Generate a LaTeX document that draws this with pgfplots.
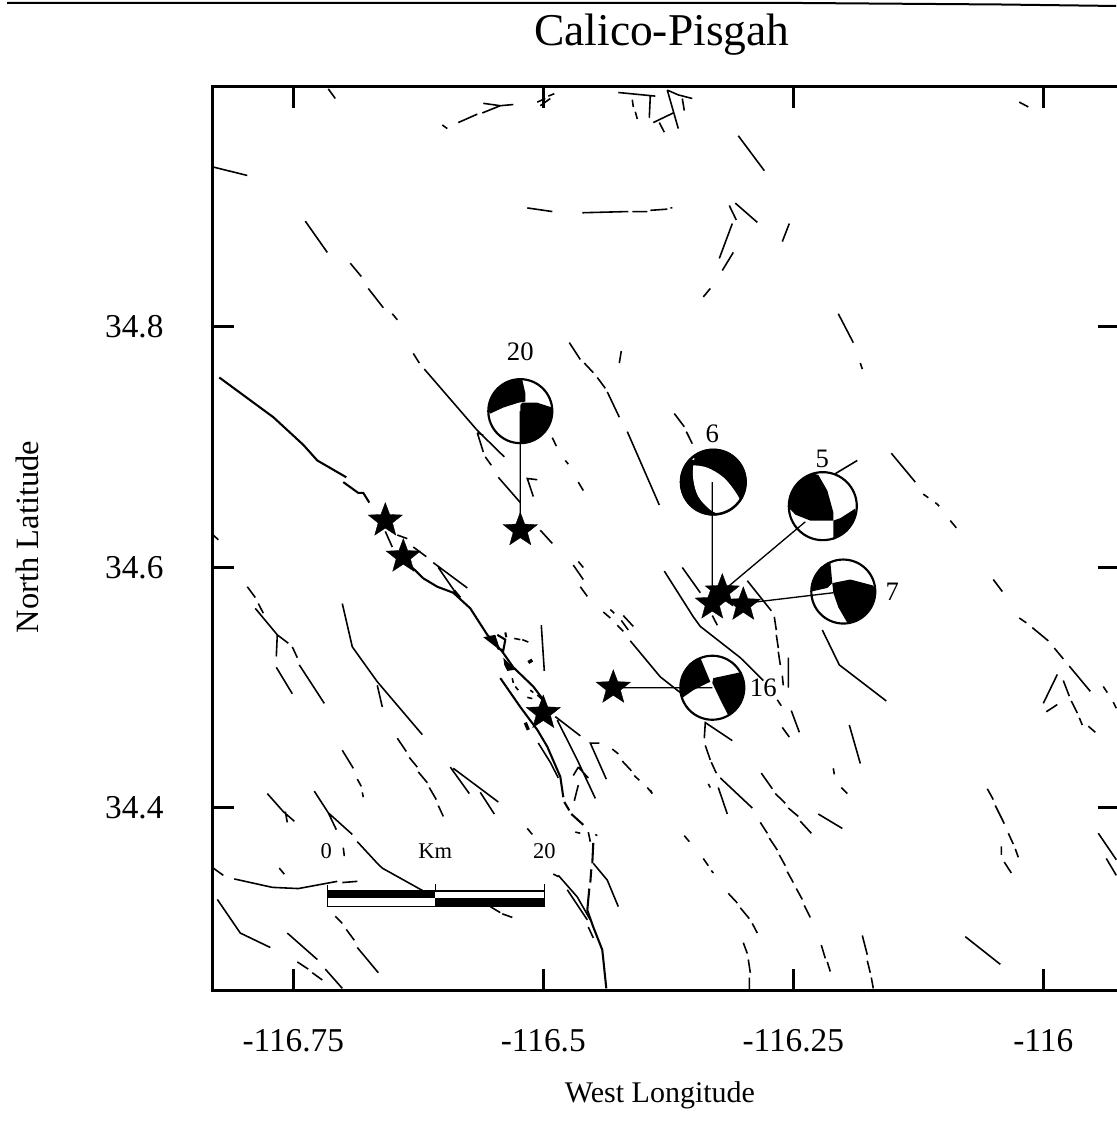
\documentclass[border=0pt]{standalone}
\usepackage{fontspec}
\setmainfont{Liberation Serif}
\usepackage{pgfplots}
\pgfplotsset{compat=1.18}
\pgfdeclareplotmark{fstar}{%
  \pgfpathmoveto{\pgfqpoint{0pt}{\pgfplotmarksize}}%
  \pgfpathlineto{\pgfqpoint{0.247\pgfplotmarksize}{0.34\pgfplotmarksize}}%
  \pgfpathlineto{\pgfqpoint{0.951\pgfplotmarksize}{0.309\pgfplotmarksize}}%
  \pgfpathlineto{\pgfqpoint{0.40\pgfplotmarksize}{-0.13\pgfplotmarksize}}%
  \pgfpathlineto{\pgfqpoint{0.588\pgfplotmarksize}{-0.809\pgfplotmarksize}}%
  \pgfpathlineto{\pgfqpoint{0pt}{-0.42\pgfplotmarksize}}%
  \pgfpathlineto{\pgfqpoint{-0.588\pgfplotmarksize}{-0.809\pgfplotmarksize}}%
  \pgfpathlineto{\pgfqpoint{-0.40\pgfplotmarksize}{-0.13\pgfplotmarksize}}%
  \pgfpathlineto{\pgfqpoint{-0.951\pgfplotmarksize}{0.309\pgfplotmarksize}}%
  \pgfpathlineto{\pgfqpoint{-0.247\pgfplotmarksize}{0.34\pgfplotmarksize}}%
  \pgfpathclose\pgfusepathqfillstroke}
\begin{document}
\begin{tikzpicture}[x=0.6pt,y=0.6pt]
\path[use as bounding box] (0,0) rectangle (1116,1140);
\draw[line width=1.2pt,black] (7,1137) -- (800,1137) -- (1000,1135.5) -- (1116,1134);
\begin{axis}[
  at={(127.62pt,89.82pt)}, anchor=south west,
  scale only axis, width=544.38pt, height=542.28pt,
  xmin=-116.8306, xmax=-115.9233, ymin=34.2484, ymax=35.0,
  unbounded coords=jump,
  clip marker paths=true,
  axis line style={line width=1.9pt,black},
  tick align=inside, major tick length=13pt,
  tick style={line width=1.8pt,black},
  xtick={-116.75,-116.5,-116.25,-116},
  xticklabels={-116.75,-116.5,-116.25,-116},
  ytick={34.4,34.6,34.8},
  yticklabels={34.4,34.6,34.8},
  tick label style={font=\fontsize{20}{22}\selectfont},
  xticklabel style={yshift=-20pt},
  yticklabel style={xshift=-26pt},
  title={\fontsize{27.3}{30}\selectfont Calico-Pisgah},
  title style={at={(axis description cs:0.495,1.0459)},anchor=center},
  xlabel={\fontsize{18}{21}\selectfont West Longitude},
  xlabel style={at={(axis description cs:0.493,-0.116)},anchor=center},
  ylabel={\fontsize{19.5}{22}\selectfont North Latitude},
  ylabel style={at={(axis description cs:-0.2047,0.5016)},anchor=center},
]
% faults, thin
\addplot[black,line width=0.95pt] coordinates {
(-116.715,34.998) (-116.708,34.990) (nan,nan)
(-116.601,34.968) (-116.596,34.965) (nan,nan)
(-116.585,34.970) (-116.566,34.977) (nan,nan)
(-116.560,34.986) (-116.543,34.984) (-116.561,34.978) (nan,nan)
(-116.543,34.984) (-116.530,34.985) (nan,nan)
(-116.506,34.987) (-116.498,34.990) (nan,nan)
(-116.495,34.992) (-116.489,34.994) (nan,nan)
(-116.503,34.984) (-116.493,34.990) (nan,nan)
(-116.425,34.995) (-116.388,34.992) (nan,nan)
(-116.393,34.992) (-116.394,34.974) (nan,nan)
(-116.411,34.989) (-116.410,34.983) (nan,nan)
(-116.408,34.979) (-116.406,34.973) (nan,nan)
(-116.830,34.933) (-116.796,34.926) (nan,nan)
(-116.738,34.888) (-116.716,34.862) (nan,nan)
(-116.693,34.853) (-116.682,34.842) (nan,nan)
(-116.675,34.832) (-116.660,34.816) (nan,nan)
(-116.651,34.811) (-116.646,34.806) (nan,nan)
(-116.630,34.778) (-116.624,34.770) (nan,nan)
(-116.619,34.765) (-116.566,34.714) (-116.539,34.692) (nan,nan)
(-116.566,34.712) (-116.560,34.696) (nan,nan)
(-116.558,34.692) (-116.552,34.685) (nan,nan)
(-116.566,34.712) (-116.560,34.710) (nan,nan)
(-116.545,34.675) (-116.523,34.654) (nan,nan)
(-116.506,34.673) (-116.516,34.674) (-116.510,34.659) (nan,nan)
(-116.491,34.708) (-116.487,34.701) (nan,nan)
(-116.478,34.689) (-116.475,34.686) (nan,nan)
(-116.465,34.671) (-116.460,34.664) (nan,nan)
(-116.474,34.787) (-116.463,34.773) (nan,nan)
(-116.459,34.770) (-116.450,34.762) (nan,nan)
(-116.446,34.758) (-116.438,34.749) (nan,nan)
(-116.436,34.746) (-116.424,34.725) (nan,nan)
(-116.416,34.713) (-116.384,34.652) (nan,nan)
(-116.422,34.780) (-116.424,34.770) (nan,nan)
(-116.516,34.899) (-116.491,34.896) (nan,nan)
(-116.461,34.895) (-116.415,34.896) (nan,nan)
(-116.411,34.896) (-116.396,34.896) (nan,nan)
(-116.393,34.897) (-116.376,34.898) (nan,nan)
(-116.373,34.899) (-116.371,34.899) (nan,nan)
(-116.376,34.997) (-116.365,34.965) (nan,nan)
(-116.376,34.997) (-116.365,34.993) (-116.351,34.990) (nan,nan)
(-116.361,34.990) (-116.359,34.980) (nan,nan)
(-116.390,34.970) (-116.370,34.978) (nan,nan)
(-116.384,34.970) (-116.379,34.962) (nan,nan)
(-116.305,34.959) (-116.279,34.930) (nan,nan)
(-116.308,34.903) (-116.286,34.887) (nan,nan)
(-116.314,34.901) (-116.307,34.889) (nan,nan)
(-116.311,34.886) (-116.324,34.857) (nan,nan)
(-116.310,34.862) (-116.321,34.847) (nan,nan)
(-116.333,34.832) (-116.340,34.825) (nan,nan)
(-116.254,34.886) (-116.261,34.871) (nan,nan)
(-116.024,34.987) (-116.015,34.983) (nan,nan)
(-116.205,34.811) (-116.190,34.787) (nan,nan)
(-116.183,34.770) (-116.181,34.765) (nan,nan)
(-116.369,34.728) (-116.359,34.717) (nan,nan)
(-116.357,34.713) (-116.351,34.703) (nan,nan)
(-116.208,34.678) (-116.186,34.689) (nan,nan)
(-116.152,34.695) (-116.128,34.671) (nan,nan)
(-116.120,34.661) (-116.115,34.658) (nan,nan)
(-116.108,34.654) (-116.104,34.651) (nan,nan)
(-116.093,34.639) (-116.087,34.633) (nan,nan)
(-116.830,34.627) (-116.825,34.623) (nan,nan)
(-116.796,34.584) (-116.788,34.575) (nan,nan)
(-116.788,34.566) (-116.766,34.544) (-116.755,34.537) (nan,nan)
(-116.785,34.570) (-116.780,34.562) (nan,nan)
(-116.766,34.544) (-116.767,34.526) (nan,nan)
(-116.751,34.534) (-116.746,34.525) (nan,nan)
(-116.744,34.519) (-116.719,34.487) (nan,nan)
(-116.767,34.517) (-116.751,34.495) (nan,nan)
(-116.701,34.570) (-116.691,34.534) (-116.666,34.505) (-116.621,34.461) (nan,nan)
(-116.666,34.502) (-116.661,34.484) (nan,nan)
(-116.646,34.458) (-116.637,34.447) (nan,nan)
(-116.634,34.442) (-116.626,34.434) (nan,nan)
(-116.625,34.430) (-116.616,34.421) (nan,nan)
(-116.614,34.417) (-116.607,34.407) (nan,nan)
(-116.605,34.402) (-116.600,34.393) (nan,nan)
(-116.701,34.448) (-116.690,34.433) (nan,nan)
(-116.686,34.424) (-116.682,34.418) (nan,nan)
(-116.681,34.413) (-116.680,34.409) (nan,nan)
(-116.593,34.434) (-116.574,34.412) (nan,nan)
(-116.590,34.433) (-116.545,34.405) (nan,nan)
(-116.563,34.413) (-116.549,34.395) (nan,nan)
(-116.776,34.412) (-116.760,34.397) (-116.749,34.389) (nan,nan)
(-116.758,34.397) (-116.756,34.388) (nan,nan)
(-116.729,34.414) (-116.715,34.396) (-116.691,34.378) (nan,nan)
(-116.715,34.396) (-116.707,34.382) (nan,nan)
(-116.686,34.372) (-116.666,34.354) (-116.661,34.350) (-116.620,34.331) (nan,nan)
(-116.700,34.367) (-116.699,34.360) (nan,nan)
(-116.516,34.383) (-116.511,34.378) (nan,nan)
(-116.830,34.350) (-116.820,34.344) (nan,nan)
(-116.764,34.350) (-116.759,34.345) (nan,nan)
(-116.809,34.341) (-116.771,34.334) (-116.745,34.333) (-116.706,34.339) (nan,nan)
(-116.701,34.338) (-116.686,34.339) (nan,nan)
(-116.826,34.324) (-116.803,34.296) (-116.773,34.284) (nan,nan)
(-116.756,34.296) (-116.726,34.274) (nan,nan)
(-116.708,34.310) (-116.701,34.304) (nan,nan)
(-116.697,34.299) (-116.689,34.290) (nan,nan)
(-116.686,34.284) (-116.665,34.263) (nan,nan)
(-116.746,34.272) (-116.735,34.266) (nan,nan)
(-116.731,34.263) (-116.721,34.257) (nan,nan)
(-116.718,34.266) (-116.701,34.250) (nan,nan)
(-116.553,34.318) (-116.543,34.313) (nan,nan)
(-116.541,34.312) (-116.531,34.309) (nan,nan)
(-116.468,34.380) (-116.463,34.379) (nan,nan)
(-116.455,34.380) (-116.453,34.372) (nan,nan)
(-116.448,34.378) (-116.446,34.377) (nan,nan)
(-116.488,34.476) (-116.463,34.460) (nan,nan)
(-116.486,34.473) (-116.466,34.440) (-116.448,34.408) (nan,nan)
(-116.465,34.434) (-116.455,34.425) (nan,nan)
(-116.470,34.427) (-116.465,34.434) (nan,nan)
(-116.465,34.419) (-116.469,34.406) (nan,nan)
(-116.444,34.454) (-116.453,34.454) (-116.437,34.424) (nan,nan)
(-116.431,34.449) (-116.425,34.445) (nan,nan)
(-116.421,34.439) (-116.412,34.431) (nan,nan)
(-116.409,34.427) (-116.404,34.423) (nan,nan)
(-116.396,34.417) (-116.391,34.412) (nan,nan)
(-116.610,34.604) (-116.576,34.583) (nan,nan)
(-116.605,34.600) (-116.586,34.577) (nan,nan)
(-116.646,34.627) (-116.636,34.624) (nan,nan)
(-116.630,34.617) (-116.617,34.609) (nan,nan)
(-116.658,34.630) (-116.651,34.617) (nan,nan)
(-116.503,34.631) (-116.491,34.620) (nan,nan)
(-116.502,34.552) (-116.499,34.514) (nan,nan)
(-116.470,34.602) (-116.460,34.590) (nan,nan)
(-116.465,34.605) (-116.460,34.600) (nan,nan)
(-116.463,34.584) (-116.456,34.576) (nan,nan)
(-116.440,34.563) (-116.433,34.558) (nan,nan)
(-116.433,34.565) (-116.429,34.562) (nan,nan)
(-116.426,34.552) (-116.420,34.547) (nan,nan)
(-116.422,34.556) (-116.415,34.548) (nan,nan)
(-116.420,34.560) (-116.410,34.551) (nan,nan)
(-116.413,34.539) (-116.383,34.509) (-116.363,34.496) (nan,nan)
(-116.529,34.541) (-116.523,34.540) (nan,nan)
(-116.521,34.540) (-116.515,34.538) (nan,nan)
(-116.531,34.508) (-116.530,34.504) (nan,nan)
(-116.528,34.501) (-116.525,34.498) (nan,nan)
(-116.516,34.492) (-116.511,34.491) (nan,nan)
(-116.513,34.498) (-116.510,34.496) (nan,nan)
(-116.506,34.494) (-116.501,34.490) (nan,nan)
(-116.505,34.454) (-116.493,34.438) (-116.485,34.425) (nan,nan)
(-116.450,34.354) (-116.436,34.340) (-116.425,34.318) (nan,nan)
(-116.490,34.345) (-116.485,34.343) (nan,nan)
(-116.485,34.344) (-116.466,34.326) (-116.453,34.307) (nan,nan)
(-116.476,34.332) (-116.456,34.307) (nan,nan)
(-116.455,34.301) (-116.450,34.292) (nan,nan)
(-116.379,34.597) (-116.350,34.559) (-116.343,34.551) (-116.303,34.525) (-116.280,34.506) (nan,nan)
(-116.361,34.600) (-116.343,34.579) (nan,nan)
(-116.296,34.589) (-116.272,34.564) (nan,nan)
(-116.331,34.560) (-116.326,34.552) (nan,nan)
(-116.269,34.559) (-116.267,34.548) (nan,nan)
(-116.267,34.544) (-116.265,34.533) (nan,nan)
(-116.265,34.530) (-116.263,34.519) (nan,nan)
(-116.261,34.510) (-116.260,34.502) (nan,nan)
(-116.255,34.525) (-116.255,34.500) (nan,nan)
(-116.266,34.490) (-116.262,34.485) (nan,nan)
(-116.252,34.481) (-116.244,34.463) (nan,nan)
(-116.261,34.467) (-116.254,34.459) (nan,nan)
(-116.221,34.548) (-116.204,34.519) (-116.157,34.489) (nan,nan)
(-116.194,34.469) (-116.183,34.437) (nan,nan)
(-116.210,34.433) (-116.209,34.428) (nan,nan)
(-116.202,34.417) (-116.196,34.412) (nan,nan)
(-116.339,34.458) (-116.338,34.471) (-116.311,34.456) (nan,nan)
(-116.338,34.452) (-116.333,34.440) (nan,nan)
(-116.332,34.438) (-116.327,34.429) (nan,nan)
(-116.335,34.420) (-116.333,34.417) (nan,nan)
(-116.325,34.417) (-116.316,34.395) (nan,nan)
(-116.323,34.425) (-116.291,34.400) (nan,nan)
(-116.282,34.429) (-116.271,34.416) (nan,nan)
(-116.268,34.412) (-116.258,34.404) (nan,nan)
(-116.255,34.400) (-116.245,34.393) (nan,nan)
(-116.243,34.389) (-116.232,34.379) (nan,nan)
(-116.225,34.395) (-116.201,34.383) (nan,nan)
(-116.283,34.388) (-116.276,34.379) (nan,nan)
(-116.274,34.375) (-116.266,34.365) (nan,nan)
(-116.264,34.361) (-116.258,34.352) (nan,nan)
(-116.256,34.347) (-116.250,34.338) (nan,nan)
(-116.247,34.333) (-116.241,34.324) (nan,nan)
(-116.239,34.319) (-116.233,34.309) (nan,nan)
(-116.359,34.377) (-116.354,34.372) (nan,nan)
(-116.340,34.358) (-116.335,34.352) (nan,nan)
(-116.332,34.348) (-116.330,34.346) (nan,nan)
(-116.315,34.329) (-116.306,34.321) (nan,nan)
(-116.303,34.317) (-116.294,34.308) (nan,nan)
(-116.291,34.304) (-116.286,34.296) (nan,nan)
(-116.300,34.288) (-116.296,34.279) (nan,nan)
(-116.295,34.274) (-116.293,34.263) (nan,nan)
(-116.294,34.259) (-116.294,34.249) (nan,nan)
(-116.222,34.286) (-116.218,34.275) (nan,nan)
(-116.216,34.272) (-116.213,34.264) (nan,nan)
(-116.181,34.294) (-116.176,34.278) (nan,nan)
(-116.176,34.273) (-116.173,34.263) (nan,nan)
(-116.172,34.259) (-116.170,34.250) (nan,nan)
(-116.078,34.293) (-116.043,34.270) (nan,nan)
(-116.050,34.590) (-116.041,34.580) (nan,nan)
(-116.024,34.558) (-116.017,34.554) (nan,nan)
(-116.011,34.550) (-115.995,34.539) (nan,nan)
(-115.989,34.533) (-115.980,34.524) (nan,nan)
(-115.974,34.518) (-115.953,34.497) (nan,nan)
(-115.986,34.511) (-116.000,34.487) (nan,nan)
(-115.997,34.480) (-115.986,34.486) (nan,nan)
(-115.980,34.506) (-115.974,34.493) (nan,nan)
(-115.972,34.489) (-115.966,34.479) (nan,nan)
(-115.964,34.475) (-115.961,34.469) (nan,nan)
(-115.955,34.468) (-115.948,34.463) (nan,nan)
(-115.940,34.501) (-115.936,34.496) (nan,nan)
(-115.930,34.488) (-115.927,34.483) (nan,nan)
(-116.056,34.416) (-116.050,34.407) (nan,nan)
(-116.048,34.402) (-116.039,34.387) (nan,nan)
(-116.035,34.379) (-116.030,34.370) (nan,nan)
(-116.028,34.366) (-116.025,34.359) (nan,nan)
(-116.042,34.368) (-116.042,34.361) (nan,nan)
(-116.039,34.355) (-116.032,34.346) (nan,nan)
(-115.945,34.379) (-115.927,34.357) (nan,nan)
(-115.937,34.358) (-115.927,34.344) (nan,nan)
(-116.393,34.415) (-116.391,34.412)
};
% main fault trace, heavier
\addplot[black,line width=1.25pt] coordinates {
(-116.824,34.758) (-116.770,34.725) (-116.740,34.702) (-116.726,34.689) (-116.697,34.675) (nan,nan)
(-116.700,34.671) (-116.685,34.662) (-116.680,34.662) (-116.674,34.654) (nan,nan)
(-116.636,34.604) (-116.620,34.591) (-116.606,34.584) (-116.590,34.579) (-116.573,34.566) (-116.556,34.544) (-116.541,34.530) (-116.530,34.517) (-116.510,34.501) (-116.500,34.490) (nan,nan)
(-116.543,34.508) (-116.523,34.484) (-116.506,34.465) (-116.496,34.451) (-116.483,34.426) (-116.480,34.409) (nan,nan)
(-116.479,34.405) (-116.474,34.398) (nan,nan)
(-116.472,34.395) (-116.460,34.386) (nan,nan)
(-116.450,34.371) (-116.451,34.354) (nan,nan)
(-116.452,34.349) (-116.453,34.338) (nan,nan)
(-116.454,34.333) (-116.456,34.315) (-116.450,34.301) (-116.441,34.282) (-116.437,34.250) (nan,nan)
(-116.546,34.544) (-116.538,34.540) (-116.540,34.531) (-116.546,34.533) (nan,nan)
(-116.538,34.546) (-116.537,34.542) (nan,nan)
(-116.589,34.581) (-116.583,34.575)
};
\addplot[black,line width=2pt] coordinates {
(-116.515,34.521) (-116.511,34.523) (nan,nan)
(-116.518,34.471) (-116.515,34.465)
};
\addplot[fill=black,draw=none] coordinates {(-116.560,34.542) (-116.548,34.544) (-116.543,34.531)} -- cycle;
\addplot[fill=black,draw=none] coordinates {(-116.540,34.525) (-116.528,34.515) (-116.536,34.514) (-116.539,34.519)} -- cycle;
% scale bar
\addplot[fill=white,draw=black,line width=0.8pt] coordinates {(-116.716,34.331) (-116.499,34.331) (-116.499,34.318) (-116.716,34.318)} -- cycle;
\addplot[fill=black,draw=none] coordinates {(-116.716,34.331) (-116.608,34.331) (-116.608,34.325) (-116.716,34.325)} -- cycle;
\addplot[fill=black,draw=none] coordinates {(-116.608,34.325) (-116.499,34.325) (-116.499,34.318) (-116.608,34.318)} -- cycle;
\addplot[black,line width=0.8pt] coordinates {(-116.716,34.331) (-116.716,34.336) (nan,nan) (-116.608,34.331) (-116.608,34.337) (nan,nan) (-116.499,34.331) (-116.499,34.337)};
% focal mechanisms: white disks
\addplot[only marks,mark=*,mark size=19.2pt,mark options={fill=white,draw=none}] coordinates {(-116.523,34.730) (-116.200,34.580) (-116.331,34.500)};
\addplot[only marks,mark=*,mark size=20.4pt,mark options={fill=white,draw=none}] coordinates {(-116.2205,34.651)};
\addplot[only marks,mark=*,mark size=19.8pt,mark options={fill=black,draw=none}] coordinates {(-116.330,34.671)};
% ball 20
\addplot[fill=black,draw=none] coordinates {(-116.521,34.756) (-116.531,34.756) (-116.539,34.753) (-116.546,34.749) (-116.551,34.743) (-116.554,34.737) (-116.555,34.730) (-116.553,34.728) (-116.540,34.733) (-116.525,34.737) (-116.518,34.738) (-116.518,34.745)} -- cycle;
\addplot[fill=black,draw=none] coordinates {(-116.521,34.737) (-116.506,34.737) (-116.491,34.733) (-116.491,34.730) (-116.492,34.723) (-116.495,34.717) (-116.500,34.711) (-116.507,34.707) (-116.515,34.704) (-116.523,34.703) (-116.523,34.735)} -- cycle;
% ball 6
\addplot[fill=white,draw=none,smooth,tension=0.6] coordinates {(-116.350,34.685) (-116.336,34.683) (-116.320,34.675) (-116.308,34.663) (-116.303,34.654) (-116.310,34.649) (-116.323,34.645) (-116.333,34.648) (-116.345,34.659) (-116.350,34.673) (-116.350,34.685)} -- cycle;
\addplot[white,line width=1pt] coordinates {(-116.353,34.691) (-116.349,34.690)};
% ball 5
\addplot[fill=black,draw=none] coordinates {(-116.230,34.678) (-116.238,34.675) (-116.244,34.671) (-116.250,34.665) (-116.253,34.658) (-116.255,34.650) (-116.248,34.644) (-116.233,34.639) (-116.210,34.639) (-116.210,34.646) (-116.216,34.664) (-116.225,34.677)} -- cycle;
\addplot[fill=black,draw=none] coordinates {(-116.210,34.639) (-116.203,34.641) (-116.188,34.649) (-116.188,34.644) (-116.191,34.637) (-116.196,34.630) (-116.204,34.626) (-116.210,34.623)} -- cycle;
% ball 7
\addplot[fill=black,draw=none] coordinates {(-116.213,34.605) (-116.216,34.604) (-116.223,34.600) (-116.228,34.594) (-116.231,34.587) (-116.232,34.580) (-116.216,34.583) (-116.211,34.587)} -- cycle;
\addplot[fill=black,draw=none] coordinates {(-116.211,34.587) (-116.193,34.590) (-116.170,34.585) (-116.168,34.580) (-116.169,34.574) (-116.172,34.567) (-116.177,34.561) (-116.184,34.557) (-116.192,34.555) (-116.196,34.554) (-116.205,34.567) (-116.210,34.579)} -- cycle;
% ball 16
\addplot[fill=black,draw=none] coordinates {(-116.343,34.525) (-116.347,34.524) (-116.354,34.520) (-116.359,34.514) (-116.362,34.507) (-116.363,34.501) (-116.362,34.491) (-116.350,34.498) (-116.333,34.505)} -- cycle;
\addplot[fill=black,draw=none] coordinates {(-116.330,34.508) (-116.302,34.513) (-116.300,34.507) (-116.299,34.501) (-116.300,34.494) (-116.303,34.487) (-116.308,34.482) (-116.315,34.477) (-116.323,34.490) (-116.331,34.504)} -- cycle;
% ball outlines
\addplot[only marks,mark=o,mark size=19.2pt,mark options={draw=black,fill=none,line width=1.3pt}] coordinates {(-116.523,34.730) (-116.200,34.580) (-116.331,34.500)};
\addplot[only marks,mark=o,mark size=20.4pt,mark options={draw=black,fill=none,line width=1.3pt}] coordinates {(-116.2205,34.651)};
\addplot[only marks,mark=o,mark size=19.4pt,mark options={draw=black,fill=none,line width=1.5pt}] coordinates {(-116.330,34.671)};
% connectors
\addplot[black,line width=0.8pt] coordinates {
(-116.523,34.730) (-116.523,34.632) (nan,nan)
(-116.331,34.671) (-116.331,34.570) (nan,nan)
(-116.238,34.638) (-116.321,34.580) (nan,nan)
(-116.210,34.579) (-116.301,34.570) (nan,nan)
(-116.331,34.500) (-116.430,34.500)};
% epicentres
\addplot[only marks,mark=fstar,mark size=10.8pt,mark options={fill=black,draw=black,line width=0.2pt}] coordinates {
(-116.658,34.639) (-116.640,34.609) (-116.523,34.631) (-116.500,34.479) (-116.430,34.500) (-116.331,34.570) (-116.321,34.580) (-116.300,34.569)};
% texts
\node[font=\fontsize{16}{18}\selectfont] at (axis cs:-116.523,34.779) {20};
\node[font=\fontsize{16}{18}\selectfont] at (axis cs:-116.331,34.711) {6};
\node[font=\fontsize{16}{18}\selectfont] at (axis cs:-116.221,34.690) {5};
\node[font=\fontsize{16}{18}\selectfont] at (axis cs:-116.151,34.580) {7};
\node[font=\fontsize{16}{18}\selectfont] at (axis cs:-116.280,34.500) {16};
\node[font=\fontsize{13.5}{15}\selectfont] at (axis cs:-116.717,34.364) {0};
\node[font=\fontsize{13.5}{15}\selectfont] at (axis cs:-116.608,34.364) {Km};
\node[font=\fontsize{13.5}{15}\selectfont] at (axis cs:-116.499,34.364) {20};
\end{axis}
\end{tikzpicture}
\end{document}
